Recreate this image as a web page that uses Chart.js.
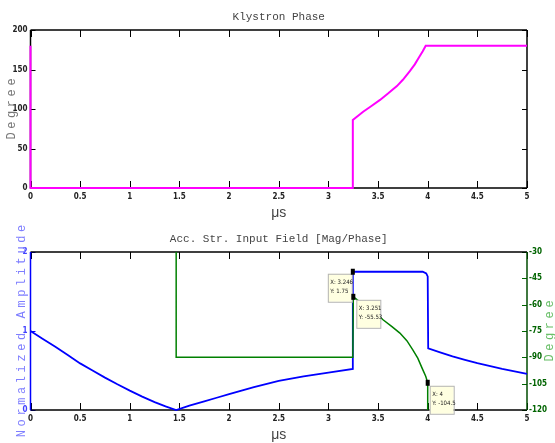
<!DOCTYPE html>
<html>
<head>
<meta charset="utf-8">
<script src="https://cdn.jsdelivr.net/npm/chart.js@4.4.0/dist/chart.umd.min.js"></script>
<style>
  html, body { margin: 0; padding: 0; background: #fff; }
  #wrap { position: relative; width: 555px; height: 443px; overflow: hidden; }
  canvas { position: absolute; left: 0; }
</style>
</head>
<body>
<div id="wrap">
  <canvas id="klystron" width="555" height="222" style="top:0"></canvas>
  <canvas id="field" width="555" height="221" style="top:222px"></canvas>
</div>
<script>
// time axis (us)
const xTicks = [0, 0.5, 1, 1.5, 2, 2.5, 3, 3.5, 4, 4.5, 5];

// klystron phase, degrees
const klyTime  = [0, 0, 3.246, 3.246, 3.35, 3.43, 3.52, 3.6, 3.69, 3.75, 3.82, 3.87, 3.91, 3.95, 3.98, 5];
const klyPhase = [180, 0, 0, 86, 96.5, 103.5, 111.5, 119.5, 129, 137, 148, 156.5, 165, 173, 180, 180];
const klyTicks = [0, 50, 100, 150, 200];

// acc. structure input field - normalized amplitude
const ampTime = [0, 0.125, 0.25, 0.375, 0.5, 0.625, 0.75, 0.875, 1, 1.125, 1.25, 1.36, 1.467,
                 1.6, 1.75, 1.875, 2, 2.25, 2.5, 2.75, 3, 3.246,
                 3.246, 3.95, 3.985, 4, 4.005, 4.125, 4.25, 4.375, 4.5, 4.75, 5];
const ampVal  = [1, 0.9, 0.8, 0.695, 0.59, 0.5, 0.41, 0.325, 0.245, 0.17, 0.1, 0.045, 0,
                 0.055, 0.11, 0.155, 0.2, 0.29, 0.368, 0.425, 0.474, 0.52,
                 1.75, 1.75, 1.73, 1.69, 0.78, 0.73, 0.68, 0.635, 0.593, 0.52, 0.457];
const ampTicks = [0, 1, 2];

// acc. structure input field - phase, degrees
const fieldTime  = [1.467, 1.467, 3.246, 3.251, 3.32, 3.4, 3.48, 3.55, 3.64, 3.72, 3.79, 3.85, 3.9, 3.95, 3.98, 4, 4];
const fieldPhase = [-30, -90, -90, -55.53, -58.5, -61.5, -65, -68.6, -72.5, -76.2, -80.5, -85.7, -90.5, -97, -100.8, -104.5, -120];
const degTicks = [-120, -105, -90, -75, -60, -45, -30];

// data tips
const tipAxis = ['yAmp', 'yDeg', 'yDeg'];
const tipX = [3.246, 3.251, 4];
const tipY = [1.75, -55.53, -104.5];

const pts = (xs, ys) => xs.map((x, i) => ({ x: x, y: ys[i] }));
const fixTicks = vals => s => { s.ticks = vals.map(v => ({ value: v })); };

const tickFont = { family: "'Liberation Sans Narrow', 'DejaVu Sans Condensed', 'Arial Narrow', sans-serif", size: 8, weight: 'bold' };

// matlab-ish box, inward ticks and titles
const axesPlugin = {
  id: 'mlAxes',
  beforeDatasetsDraw(chart, args, opts) {
    const ctx = chart.ctx, a = chart.chartArea;
    ctx.save();
    for (const m of opts.marks) {
      const s = chart.scales[m.id];
      ctx.strokeStyle = m.color;
      ctx.lineWidth = 1;
      ctx.beginPath();
      for (const tk of s.ticks) {
        const p = Math.round(s.getPixelForValue(tk.value)) + 0.5;
        for (const side of m.sides) {
          if (side === 'bottom') { ctx.moveTo(p, a.bottom); ctx.lineTo(p, a.bottom - m.len); }
          if (side === 'top') { ctx.moveTo(p, a.top); ctx.lineTo(p, a.top + m.len); }
          if (side === 'left') { ctx.moveTo(a.left, p); ctx.lineTo(a.left + m.len, p); }
          if (side === 'right') { ctx.moveTo(a.right, p); ctx.lineTo(a.right - m.len, p); }
        }
      }
      ctx.stroke();
    }
    ctx.lineWidth = 1.5;
    ctx.strokeStyle = '#000';
    ctx.beginPath();
    ctx.moveTo(a.left, a.top); ctx.lineTo(a.right, a.top);
    ctx.moveTo(a.left, a.bottom); ctx.lineTo(a.right, a.bottom);
    ctx.stroke();
    ctx.strokeStyle = opts.leftColor;
    ctx.beginPath(); ctx.moveTo(a.left, a.top); ctx.lineTo(a.left, a.bottom); ctx.stroke();
    ctx.strokeStyle = opts.rightColor;
    ctx.beginPath(); ctx.moveTo(a.right, a.top); ctx.lineTo(a.right, a.bottom); ctx.stroke();
    ctx.restore();
  },
  afterDraw(chart, args, opts) {
    const ctx = chart.ctx, a = chart.chartArea;
    const cx = (a.left + a.right) / 2, cy = (a.top + a.bottom) / 2;
    ctx.save();
    ctx.textAlign = 'center';
    ctx.textBaseline = 'middle';
    ctx.fillStyle = '#444';
    ctx.font = "11px 'Liberation Mono', 'DejaVu Sans Mono', monospace";
    ctx.fillText(opts.title, cx, 17);
    ctx.fillStyle = '#444';
    ctx.font = "14px 'Liberation Sans', Arial, sans-serif";
    ctx.fillText('\u03bcs', cx, a.bottom + 25);
    ctx.font = "12px 'Liberation Mono', 'DejaVu Sans Mono', monospace";
    ctx.letterSpacing = '3.6px';
    ctx.textBaseline = 'alphabetic';
    for (const t of opts.sideTitles) {
      ctx.save();
      ctx.fillStyle = t.color;
      ctx.translate(t.x, cy);
      ctx.rotate(-Math.PI / 2);
      ctx.fillText(t.text, 1.8, 0);
      ctx.restore();
    }
    ctx.restore();
  }
};

const tipPlugin = {
  id: 'dataTips',
  afterDatasetsDraw(chart, args, opts) {
    if (!opts.boxes) return;
    const ctx = chart.ctx, xs = chart.scales.x;
    ctx.save();
    tipX.forEach((tx, i) => {
      const px = xs.getPixelForValue(tx);
      const py = chart.scales[tipAxis[i]].getPixelForValue(tipY[i]);
      const b = opts.boxes[i];
      const bx = px + b.dx, by = py + b.dy;
      ctx.fillStyle = '#ffffe1';
      ctx.strokeStyle = '#b4b4b4';
      ctx.lineWidth = 1;
      ctx.fillRect(bx, by, 24, 28);
      ctx.strokeRect(bx + 0.5, by + 0.5, 24, 28);
      ctx.fillStyle = '#222';
      ctx.font = "6px 'Liberation Sans Narrow', 'DejaVu Sans Condensed', sans-serif";
      ctx.textBaseline = 'middle';
      ctx.textAlign = 'left';
      ctx.fillText('X: ' + tx, bx + 2.5, by + 9);
      ctx.fillText('Y: ' + tipY[i], bx + 2.5, by + 18);
      ctx.fillStyle = '#000';
      ctx.fillRect(px - 2, py - 3, 4, 6);
    });
    ctx.restore();
  }
};

function xScale(h) {
  return {
    type: 'linear', min: 0, max: 5,
    afterBuildTicks: fixTicks(xTicks),
    afterFit: s => { s.height = h; },
    grid: { display: false, drawTicks: false },
    border: { display: false },
    ticks: { padding: 4, maxRotation: 0, autoSkip: false, color: '#222', font: tickFont, callback: v => String(v) }
  };
}

new Chart(document.getElementById('klystron'), {
  type: 'scatter',
  data: {
    datasets: [{
      data: pts(klyTime, klyPhase),
      showLine: true, borderColor: '#ff00ff', borderWidth: 2, pointRadius: 0, clip: 3
    }]
  },
  options: {
    responsive: false, animation: false,
    layout: { padding: { top: 30, right: 28, left: 0, bottom: 0 } },
    plugins: {
      legend: { display: false }, tooltip: { enabled: false },
      mlAxes: {
        title: 'Klystron Phase', leftColor: '#000', rightColor: '#000',
        marks: [
          { id: 'x', sides: ['bottom', 'top'], len: 7, color: '#000' },
          { id: 'y', sides: ['left', 'right'], len: 5, color: '#000' }
        ],
        sideTitles: [{ text: 'Degree', x: 15, color: '#777' }]
      },
      dataTips: {}
    },
    scales: {
      x: xScale(34),
      y: {
        min: 0, max: 200,
        afterBuildTicks: fixTicks(klyTicks),
        afterFit: s => { s.width = 30.5; },
        grid: { display: false, drawTicks: false },
        border: { display: false },
        ticks: { padding: 3, color: '#222', font: tickFont }
      }
    }
  },
  plugins: [axesPlugin, tipPlugin]
});

new Chart(document.getElementById('field'), {
  type: 'scatter',
  data: {
    datasets: [{
      data: pts(fieldTime, fieldPhase), yAxisID: 'yDeg', order: 0,
      showLine: true, borderColor: '#008000', borderWidth: 1.5, pointRadius: 0, clip: 3
    }, {
      data: pts(ampTime, ampVal), yAxisID: 'yAmp', order: 1,
      showLine: true, borderColor: '#0000ff', borderWidth: 1.8, pointRadius: 0, clip: 3
    }]
  },
  options: {
    responsive: false, animation: false,
    layout: { padding: { top: 30, right: 0, left: 0, bottom: 0 } },
    plugins: {
      legend: { display: false }, tooltip: { enabled: false },
      mlAxes: {
        title: 'Acc. Str. Input Field [Mag/Phase]', leftColor: '#0000ff', rightColor: '#004d00',
        marks: [
          { id: 'x', sides: ['bottom', 'top'], len: 7, color: '#000' },
          { id: 'yAmp', sides: ['left'], len: 5, color: '#0000ff' },
          { id: 'yDeg', sides: ['right'], len: 5, color: '#006400' }
        ],
        sideTitles: [
          { text: 'Normalized Amplitude', x: 25, color: '#7f7fff' },
          { text: 'Degree', x: 553, color: '#6abf69' }
        ]
      },
      dataTips: { boxes: [{ dx: -25, dy: 2 }, { dx: 3, dy: 3 }, { dx: 2, dy: 3 }] }
    },
    scales: {
      x: xScale(33),
      yAmp: {
        position: 'left', min: 0, max: 2,
        afterBuildTicks: fixTicks(ampTicks),
        afterFit: s => { s.width = 30.5; },
        grid: { display: false, drawTicks: false },
        border: { display: false },
        ticks: { padding: 3, color: '#4040ff', font: tickFont }
      },
      yDeg: {
        position: 'right', min: -120, max: -30,
        afterBuildTicks: fixTicks(degTicks),
        afterFit: s => { s.width = 28; },
        grid: { display: false, drawTicks: false },
        border: { display: false },
        ticks: { padding: 2, color: '#006400', font: tickFont, callback: v => String(v) }
      }
    }
  },
  plugins: [axesPlugin, tipPlugin]
});
</script>
</body>
</html>
